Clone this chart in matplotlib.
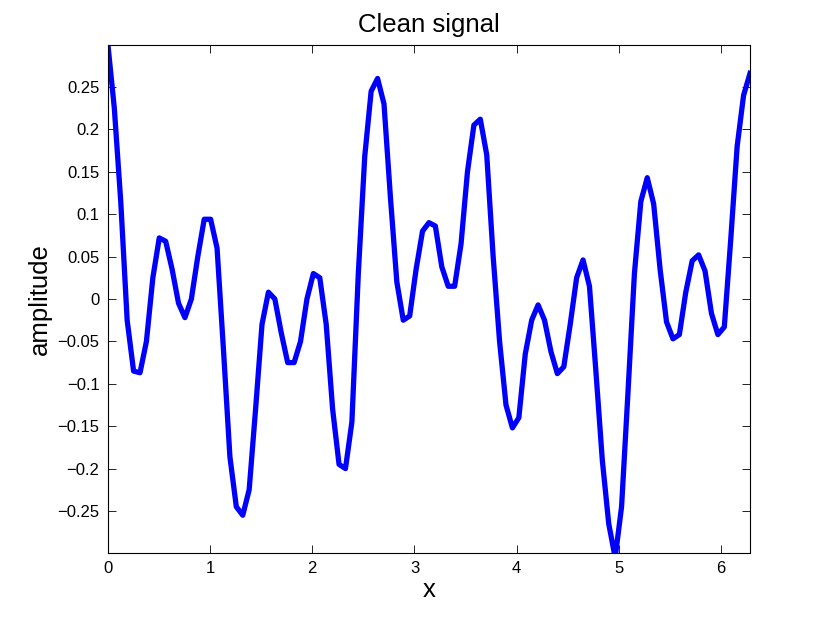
import numpy as np
import matplotlib
matplotlib.use("Agg")
from matplotlib import pyplot as plt

# 101 samples over [0, 2*pi]
n_samples = 101
amplitude = [
    0.300, 0.225, 0.115, -0.025, -0.085, -0.087, -0.050, 0.025, 0.072, 0.068,
    0.035, -0.005, -0.022, 0.000, 0.050, 0.094, 0.094, 0.060, -0.060, -0.186,
    -0.245, -0.255, -0.225, -0.130, -0.030, 0.008, 0.000, -0.040, -0.075, -0.075,
    -0.050, 0.000, 0.030, 0.025, -0.030, -0.130, -0.195, -0.200, -0.145, 0.030,
    0.168, 0.245, 0.260, 0.230, 0.120, 0.020, -0.025, -0.020, 0.035, 0.080,
    0.090, 0.086, 0.038, 0.015, 0.015, 0.065, 0.150, 0.205, 0.212, 0.170,
    0.050, -0.050, -0.125, -0.152, -0.140, -0.065, -0.025, -0.007, -0.025, -0.062,
    -0.088, -0.080, -0.030, 0.025, 0.046, 0.015, -0.085, -0.190, -0.265, -0.305,
    -0.245, -0.110, 0.030, 0.115, 0.143, 0.112, 0.035, -0.027, -0.047, -0.042,
    0.008, 0.045, 0.052, 0.033, -0.017, -0.042, -0.033, 0.070, 0.180, 0.240,
    0.266,
]
x = np.linspace(0, 2 * np.pi, n_samples)

xticks = [0, 1, 2, 3, 4, 5, 6]
yticks = [-0.25, -0.2, -0.15, -0.1, -0.05, 0, 0.05, 0.1, 0.15, 0.2, 0.25]
ytick_labels = ['\u22120.25', '\u22120.2', '\u22120.15', '\u22120.1', '\u22120.05',
                '0', '0.05', '0.1', '0.15', '0.2', '0.25']

plt.rcParams['font.family'] = ['Liberation Sans', 'DejaVu Sans']

fig = plt.figure(figsize=(8.3, 6.23), dpi=100)
ax = fig.add_axes([0.13, 0.1124, 0.7736, 0.8154])

ax.plot(x, amplitude, color=(0, 0, 1), linewidth=3.8, solid_joinstyle='round')

ax.set_xlim(0, 2 * np.pi)
ax.set_ylim(-0.2995, 0.2995)
ax.set_xticks(xticks)
ax.set_xticklabels([str(t) for t in xticks])
ax.set_yticks(yticks)
ax.set_yticklabels(ytick_labels)
ax.tick_params(direction='in', length=6, width=0.6, labelsize=12,
               top=True, right=True, pad=6)
for s in ax.spines.values():
    s.set_linewidth(0.8)

ax.set_title('Clean signal', fontsize=18.5, pad=9)
ax.set_xlabel('x', fontsize=18.5, labelpad=1)
ax.set_ylabel('amplitude', fontsize=18.5, labelpad=4)

fig.savefig('out.png', dpi=100)
